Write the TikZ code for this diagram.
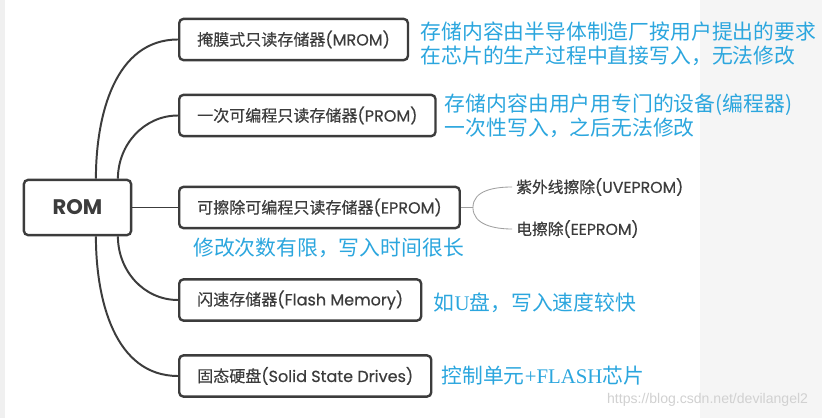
\documentclass[tikz,border=0pt]{standalone}
\usepackage{fontspec}
\setmainfont{Poppins}
\newfontfamily\cjk{Noto Sans CJK SC}
\newfontfamily\boxcjk[FakeBold=0.35]{Noto Sans CJK SC}
\newfontfamily\boxlat[FakeBold=0.35]{Poppins}
\newfontfamily\latserif{Liberation Serif}
\newfontfamily\wmfont{Liberation Sans}
\usepackage{xcolor}
\usetikzlibrary{positioning}
\definecolor{boxgray}{HTML}{3C3C3C}
\definecolor{descblue}{HTML}{2BA6DE}
\newcommand{\zh}[1]{{\boxcjk #1}}

\begin{document}
\begin{tikzpicture}[x=0.025cm, y=0.025cm,
  kind/.style={draw=boxgray, line width=1.7pt, rounded corners=3pt, fill=white, text=boxgray,
    minimum height=1.03cm, inner xsep=0.45cm, font=\boxlat\fontsize{11.4}{13}\selectfont, anchor=west},
  root/.style={kind, minimum width=2.68cm, minimum height=1.38cm, anchor=center,
    font=\fontsize{15}{17}\selectfont\bfseries},
  desc/.style={text=descblue, align=left, inner sep=0pt, font=\cjk\fontsize{14.8}{17}\selectfont},
  sub/.style={text=boxgray, inner sep=0pt, anchor=west, font=\boxlat\fontsize{11.2}{13}\selectfont},
  branch/.style={draw=boxgray, line width=1.4pt},
  twig/.style={draw=gray!75, line width=0.6pt}
]
\useasboundingbox (0,0) rectangle (822,-418);
\fill[white] (0,0) rectangle (822,-418);
\fill[black!4] (700,0) rectangle (822,-418);
\fill[black!6] (0,0) rectangle (5,-418);
\node[root] (rom) at (77.5,-207.5) {ROM};
\node[kind] (mrom) at (178,-39.5) {\zh{掩膜式只读存储器}(MROM)};
\node[kind] (prom) at (178,-115.5) {\zh{一次可编程只读存储器}(PROM)};
\node[kind] (eprom) at (178,-207.5) {\zh{可擦除可编程只读存储器}(EPROM)};
\node[kind] (flash) at (178,-300) {\zh{闪速存储器}(Flash Memory)};
\node[kind] (ssd) at (178,-376) {\zh{固态硬盘}(Solid State Drives)};
\node[desc, right=0.28cm of mrom, yshift=-0.11cm] (mromd)
  {存储内容由半导体制造厂按用户提出的要求\\在芯片的生产过程中直接写入，无法修改};
\node[desc, right=0.2cm of prom] (promd)
  {存储内容由用户用专门的设备(编程器)\\一次性写入，之后无法修改};
\node[desc, below right=0.2cm and 0.375cm of eprom.south west] (epromd)
  {修改次数有限，写入时间很长};
\node[desc, right=0.28cm of flash, yshift=-0.07cm] (flashd)
  {如{\latserif U}盘，写入速度较快};
\node[desc, right=0.22cm of ssd] (ssdd)
  {控制单元{\latserif +FLASH}芯片};
% EPROM kinds
\coordinate[right=0.3cm of eprom] (fork);
\node[sub] (uv) at (516,-187) {\zh{紫外线擦除}(UVEPROM)};
\node[sub] (ee) at (516,-229) {\zh{电擦除}(EEPROM)};
\draw[twig] (eprom) -- (fork);
\draw[twig] (fork) to[out=90,in=180] ([xshift=-0.1cm]uv.west);
\draw[twig] (fork) to[out=-90,in=180] ([xshift=-0.1cm]ee.west);
% branches from the root
\draw[branch] ([xshift=0.46cm]rom.north) to[out=90,in=180] (mrom.west);
\draw[branch] ([xshift=1.01cm]rom.north) to[out=90,in=180] (prom.west);
\draw[branch] (rom) -- (eprom);
\draw[branch] ([xshift=1.01cm]rom.south) to[out=-90,in=180] (flash.west);
\draw[branch] ([xshift=0.46cm]rom.south) to[out=-90,in=180] (ssd.west);
\node[font=\wmfont\fontsize{10}{12}\selectfont, text=black!18, anchor=east] (mark)
  at (813,-400) {https://blog.csdn.net/devilangel2};
\end{tikzpicture}
\end{document}
